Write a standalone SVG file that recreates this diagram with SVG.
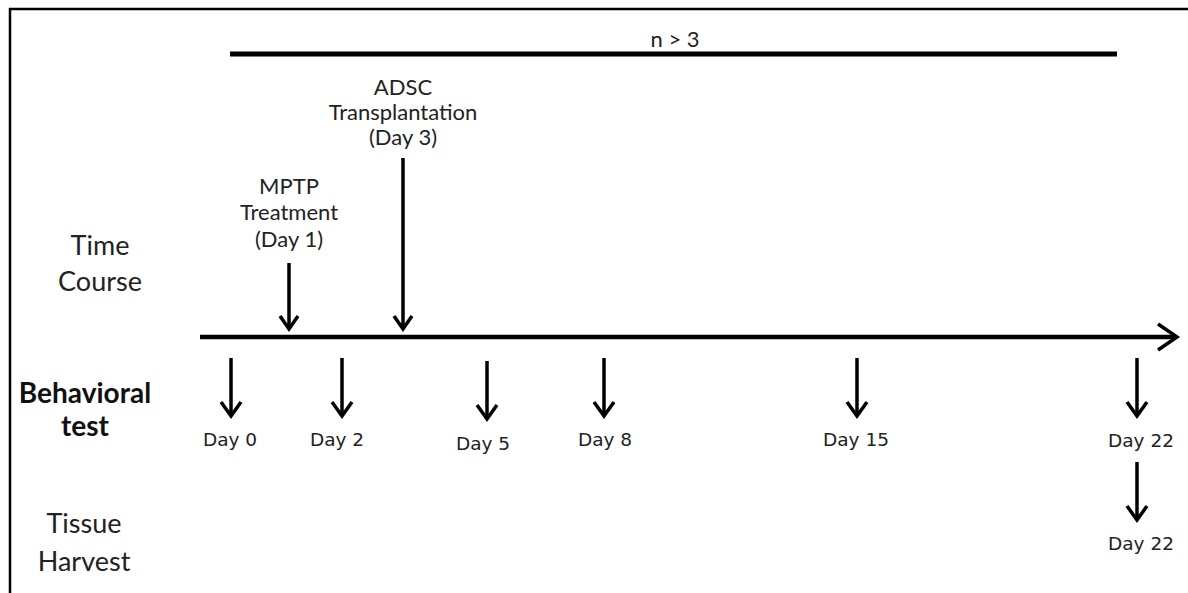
<svg xmlns="http://www.w3.org/2000/svg" width="1188" height="593" viewBox="0 0 1188 593">
<style>
.lbl{font-family:Lato,"Open Sans",sans-serif;fill:#222;text-anchor:middle}
.big{font-size:27px}
.mid{font-size:22px}
.bold{font-weight:bold;fill:#111;font-size:28px}
.day{font-family:"DejaVu Sans",Verdana,sans-serif;font-size:18.5px;fill:#222;text-anchor:middle}
.ln{stroke:#000;fill:none}
.arr{stroke:#000;stroke-width:3.5;fill:none;stroke-linecap:butt}
.head{stroke:#000;stroke-width:3.5;fill:none;stroke-linejoin:miter}
</style>
<rect width="1188" height="593" fill="#fff"/>
<g id="frame">
<line class="ln" x1="9" y1="9" x2="1188" y2="9" stroke-width="2.5"/>
<line class="ln" x1="10" y1="8" x2="10" y2="593" stroke-width="2.5"/>
</g>
<g id="group-bar">
<line class="ln" x1="230" y1="54" x2="1117" y2="54" stroke-width="5"/>
<text class="lbl mid" x="675" y="47">n &gt; 3</text>
</g>
<g id="row-labels">
<text class="lbl big" x="100" y="255">Time</text>
<text class="lbl big" x="100" y="291">Course</text>
<text class="lbl bold" x="85" y="403">Behavioral</text>
<text class="lbl bold" x="85" y="436">test</text>
<text class="lbl big" x="84" y="533">Tissue</text>
<text class="lbl big" x="84" y="571">Harvest</text>
</g>
<g id="mptp">
<text class="lbl mid" x="289" y="194">MPTP</text>
<text class="lbl mid" x="289" y="220">Treatment</text>
<text class="lbl mid" x="289" y="247">(Day 1)</text>
</g>
<g id="adsc">
<text class="lbl mid" x="403" y="95">ADSC</text>
<text class="lbl mid" x="403" y="120">Transplantation</text>
<text class="lbl mid" x="403" y="145">(Day 3)</text>
</g>
<g id="days">
<text class="day" x="230" y="446">Day 0</text>
<text class="day" x="337" y="446">Day 2</text>
<text class="day" x="483" y="450">Day 5</text>
<text class="day" x="605" y="446">Day 8</text>
<text class="day" x="856" y="446">Day 15</text>
<text class="day" x="1141" y="447">Day 22</text>
<text class="day" x="1141" y="550">Day 22</text>
</g>
<g id="connectors">
<line class="ln" x1="200" y1="337" x2="1175" y2="337" stroke-width="4.5"/>
<polyline class="head" points="1158,324 1177,337 1158,350" stroke-width="4.5"/>
<line class="arr" x1="289" y1="263" x2="289" y2="328"/>
<polyline class="head" points="280,316 289,329 298,316"/>
<line class="arr" x1="403" y1="158" x2="403" y2="328"/>
<polyline class="head" points="394,316 403,329 412,316"/>
<line class="arr" x1="231" y1="358" x2="231" y2="415"/>
<polyline class="head" points="221,402 231,416 241,402"/>
<line class="arr" x1="342" y1="358" x2="342" y2="415"/>
<polyline class="head" points="332,402 342,416 352,402"/>
<line class="arr" x1="487" y1="361" x2="487" y2="418"/>
<polyline class="head" points="477,405 487,419 497,405"/>
<line class="arr" x1="604" y1="358" x2="604" y2="415"/>
<polyline class="head" points="594,402 604,416 614,402"/>
<line class="arr" x1="857" y1="358" x2="857" y2="415"/>
<polyline class="head" points="847,402 857,416 867,402"/>
<line class="arr" x1="1137" y1="358" x2="1137" y2="415"/>
<polyline class="head" points="1127,402 1137,416 1147,402"/>
<line class="arr" x1="1137" y1="462" x2="1137" y2="519"/>
<polyline class="head" points="1127,506 1137,520 1147,506"/>
</g>
</svg>
